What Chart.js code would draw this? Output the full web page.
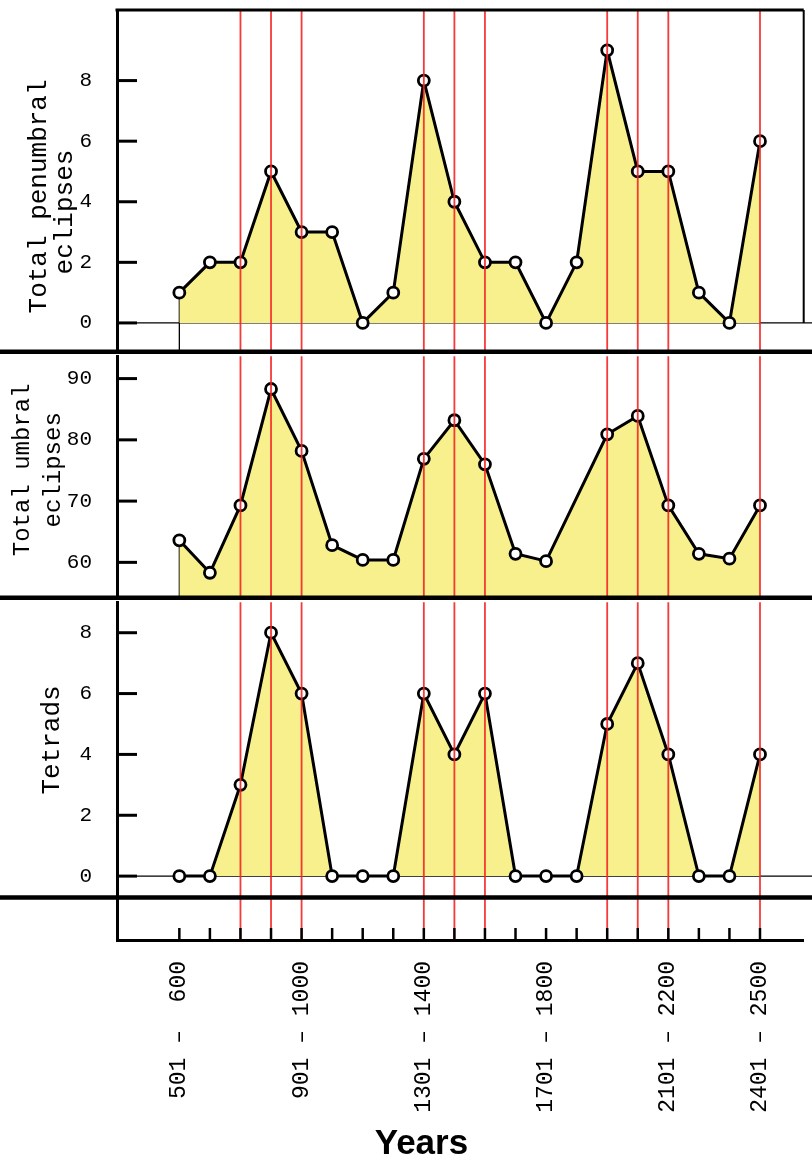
<!DOCTYPE html>
<html>
<head>
<meta charset="utf-8">
<script src="https://cdn.jsdelivr.net/npm/chart.js@4.4.1/dist/chart.umd.min.js"></script>
<style>
html, body { margin: 0; padding: 0; background: #fff; }
#wrap { position: relative; width: 812px; height: 1165px; overflow: hidden; }
#wrap canvas { position: absolute; left: 0; }
</style>
</head>
<body>
<div id="wrap">
  <canvas id="penumbral-canvas" width="812" height="360" style="top:0px"></canvas>
  <canvas id="umbral-canvas" width="812" height="258" style="top:348px"></canvas>
  <canvas id="tetrad-canvas" width="812" height="571" style="top:594px"></canvas>
</div>
<script>
"use strict";

// centuries along the x axis
const centuries = [
    "501 – 600", "601 – 700", "701 – 800", "801 – 900", "901 – 1000",
    "1001 – 1100", "1101 – 1200", "1201 – 1300", "1301 – 1400", "1401 – 1500",
    "1501 – 1600", "1601 – 1700", "1701 – 1800", "1801 – 1900", "1901 – 2000",
    "2001 – 2100", "2101 – 2200", "2201 – 2300", "2301 – 2400", "2401 – 2500"
];
// which century labels are printed under the axis
const shownLabels = [0, 4, 8, 12, 16, 19];

const penumbral = [1, 2, 2, 5, 3, 3, 0, 1, 8, 4, 2, 2, 0, 2, 9, 5, 5, 1, 0, 6];
const umbral = [63.6, 58.3, 69.3, 88.3, 78.2, 62.8, 60.4, 60.4, 76.9, 83.2,
                76.0, 61.4, 60.2, null, 80.9, 83.9, 69.3, 61.4, 60.6, 69.3];
const tetrads = [0, 0, 3, 8, 6, 0, 0, 0, 6, 4, 6, 0, 0, 0, 5, 7, 4, 0, 0, 4];

const penumbralTicks = [0, 2, 4, 6, 8];
const umbralTicks = [60, 70, 80, 90];
const tetradTicks = [0, 2, 4, 6, 8];

// red marker lines sit on the centuries that have tetrads
const markedCenturies = tetrads.map((v, i) => (v > 0 ? i : -1)).filter(i => i >= 0);

const MONO = '"Liberation Mono", "Courier New", monospace';
const FILL = "rgb(247,240,140)";
const RED = "rgba(245,35,35,0.9)";
const X_MIN = -2.04;
const X_MAX = 20.43;

function toPoints(values) {
    return values.map((v, i) => ({ x: i, y: v }));
}

function centuryLabel(i) {
    let parts = centuries[i].split(" – ");
    return parts[0] + " – " + parts[1].padStart(4, " ");
}

const frame = {
    id: "frame",
    beforeDatasetsDraw(chart, args, o) {
        const { ctx, chartArea: a, scales: { x, y } } = chart;
        ctx.save();
        ctx.strokeStyle = "#000";
        ctx.lineWidth = 1.3;
        if (o.baseline) {
            let y0 = y.getPixelForValue(0);
            ctx.beginPath();
            ctx.moveTo(a.left, y0);
            ctx.lineTo(chart.width, y0);
            ctx.stroke();
        }
        if (o.drop) {
            let first = chart.data.datasets[0].data[0];
            let px = x.getPixelForValue(first.x);
            ctx.beginPath();
            ctx.moveTo(px, y.getPixelForValue(first.y));
            ctx.lineTo(px, a.bottom);
            ctx.stroke();
        }
        ctx.restore();
    },
    afterDatasetsDraw(chart, args, o) {
        const { ctx, chartArea: a, scales: { x, y } } = chart;
        ctx.save();
        ctx.strokeStyle = RED;
        ctx.lineWidth = 1.8;
        markedCenturies.forEach(i => {
            let px = x.getPixelForValue(i);
            ctx.beginPath();
            ctx.moveTo(px, a.top);
            ctx.lineTo(px, a.bottom);
            ctx.stroke();
        });
        ctx.strokeStyle = "#000";
        // tick marks point into the plot
        ctx.lineWidth = 3;
        y.ticks.forEach(t => {
            let py = y.getPixelForValue(t.value);
            ctx.beginPath();
            ctx.moveTo(a.left, py);
            ctx.lineTo(a.left + 20, py);
            ctx.stroke();
        });
        if (o.xTicks) {
            ctx.lineWidth = 2.5;
            for (let i = 0; i < centuries.length; i++) {
                let px = x.getPixelForValue(i);
                ctx.beginPath();
                ctx.moveTo(px, a.bottom);
                ctx.lineTo(px, a.bottom - 12);
                ctx.stroke();
            }
        }
        // heavy rule between panels
        ctx.lineWidth = 4.5;
        let sy = o.sepValue === undefined ? a.bottom : y.getPixelForValue(o.sepValue);
        ctx.beginPath();
        ctx.moveTo(0, sy);
        ctx.lineTo(chart.width, sy);
        ctx.stroke();
        if (o.box) {
            ctx.lineWidth = 3;
            ctx.beginPath();
            ctx.moveTo(a.left - 1.5, a.top);
            ctx.lineTo(a.right, a.top);
            ctx.stroke();
            ctx.lineWidth = 2;
            ctx.beginPath();
            ctx.moveTo(a.right, a.top);
            ctx.lineTo(a.right, y.getPixelForValue(0));
            ctx.stroke();
        }
        ctx.restore();
    }
};

function makePanel(canvasId, values, fill, yMin, yMax, yTicks, title, padding, frameOpts, xAxis) {
    let ctx = document.getElementById(canvasId).getContext("2d");
    return new Chart(ctx, {
        type: "line",
        data: {
            datasets: [{
                data: toPoints(values),
                borderColor: "#000",
                borderWidth: 3,
                backgroundColor: FILL,
                fill: fill,
                spanGaps: true,
                tension: 0,
                pointRadius: 5.5,
                pointBorderWidth: 2.8,
                pointBorderColor: "#000",
                pointBackgroundColor: "#fff",
            }],
        },
        options: {
            responsive: false,
            animation: false,
            events: [],
            layout: { padding: padding },
            plugins: {
                legend: { display: false },
                tooltip: { enabled: false },
                frame: frameOpts,
            },
            scales: {
                x: xAxis,
                y: {
                    type: "linear",
                    min: yMin,
                    max: yMax,
                    afterBuildTicks: s => { s.ticks = yTicks.map(v => ({ value: v })); },
                    afterFit: s => {
                        s.width = 117;
                        s.paddingTop = 0;
                        s.paddingBottom = 0;
                    },
                    grid: { display: false },
                    border: { display: true, color: "#000", width: 3 },
                    ticks: {
                        color: "#000",
                        padding: 17,
                        font: { family: MONO, size: 21 },
                    },
                    title: title,
                },
            },
        },
        plugins: [frame],
    });
}

function createCharts() {
    const hiddenX = { type: "linear", min: X_MIN, max: X_MAX, display: false };

    makePanel("penumbral-canvas", penumbral, "origin", -0.95, 10.33, penumbralTicks,
        {
            display: true,
            text: ["Total penumbral  ", "eclipses    "],
            color: "#000",
            font: { family: MONO, size: 26, lineHeight: "26px" },
            padding: { top: 26, bottom: 0 },
        },
        { top: 10, bottom: 6, right: 2, left: 0 },
        { baseline: true, drop: true, box: true },
        hiddenX);

    makePanel("umbral-canvas", umbral, "start", 54.23, 93.64, umbralTicks,
        {
            display: true,
            text: [" Total umbral", " eclipses"],
            color: "#000",
            font: { family: MONO, size: 24, lineHeight: "31px" },
            padding: { top: 7.5, bottom: 0 },
        },
        { top: 6, bottom: 6, right: 2, left: 0 },
        { drop: true },
        hiddenX);

    makePanel("tetrad-canvas", tetrads, "origin", -2.1, 9.0, tetradTicks,
        {
            display: true,
            text: "    Tetrads",
            color: "#000",
            font: { family: MONO, size: 26, lineHeight: "26px" },
            padding: { top: 39, bottom: 0 },
        },
        { top: 6, bottom: 0, right: 2, left: 0 },
        { baseline: true, xTicks: true, sepValue: -0.70 },
        {
            type: "linear",
            min: X_MIN,
            max: X_MAX,
            afterBuildTicks: s => { s.ticks = centuries.map((c, i) => ({ value: i })); },
            afterFit: s => {
                s.height = 225;
                s.paddingLeft = 0;
                s.paddingRight = 0;
            },
            grid: { display: false },
            border: { display: true, color: "#000", width: 3 },
            ticks: {
                autoSkip: false,
                minRotation: 90,
                maxRotation: 90,
                padding: 13,
                color: "#000",
                font: { family: MONO, size: 23 },
                callback: v => (shownLabels.includes(v) ? centuryLabel(v) : ""),
            },
            title: {
                display: true,
                text: "Years        ",
                color: "#000",
                font: { family: '"Liberation Sans", Arial, sans-serif', size: 35, weight: "bold" },
                padding: { top: 0, bottom: 0 },
            },
        });
}

createCharts();
</script>
</body>
</html>
